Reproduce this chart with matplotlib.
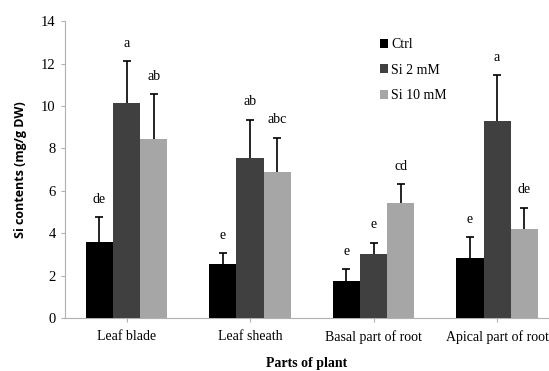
import numpy as np
import matplotlib
matplotlib.use('Agg')
import matplotlib.pyplot as plt

parts = ['Leaf blade', 'Leaf sheath', 'Basal part of root', 'Apical part of root']
series = ['Ctrl', 'Si 2 mM', 'Si 10 mM']
ctrl = [3.6, 2.55, 1.75, 2.85]
si2 = [10.15, 7.55, 3.0, 9.3]
si10 = [8.45, 6.9, 5.4, 4.2]
ctrl_err = [1.15, 0.5, 0.55, 0.95]
si2_err = [1.95, 1.8, 0.55, 2.15]
si10_err = [2.1, 1.6, 0.9, 1.0]
ctrl_lab = ['de', 'e', 'e', 'e']
si2_lab = ['a', 'ab', 'e', 'a']
si10_lab = ['ab', 'abc', 'cd', 'de']

values = [ctrl, si2, si10]
errors = [ctrl_err, si2_err, si10_err]
letters = [ctrl_lab, si2_lab, si10_lab]
colors = ['#000000', '#404040', '#a6a6a6']

serif = 'Liberation Serif'
fig = plt.figure(figsize=(5.49, 3.71), dpi=100)
ax = fig.add_axes([0.118, 0.143, 0.882, 0.800])

x = np.arange(len(parts))
w = 0.22
for i in range(3):
    pos = x + (i - 1) * w
    v = np.array(values[i])
    top = v + np.array(errors[i])
    ax.bar(pos, v, w, color=colors[i], label=series[i], zorder=3)
    # upper error bar only
    ax.vlines(pos, v, top, color='black', lw=1.2, zorder=4)
    ax.plot(pos, top, ls='none', marker='_', ms=6, mew=1.2, color='black', zorder=4)
    for j in range(4):
        ax.text(pos[j], top[j] + 0.55, letters[i][j],
                ha='center', va='bottom', fontsize=10, family=serif)

ax.set_ylim(0, 14)
ax.set_yticks(range(0, 15, 2))
ax.set_xlim(-0.5, 3.42)
ax.set_xticks(x)
ax.set_xticklabels(parts, fontsize=10, family=serif)
for lab in ax.get_yticklabels():
    lab.set_family(serif)
    lab.set_fontsize(10.5)

for s in ['top', 'right']:
    ax.spines[s].set_visible(False)
for s in ['left', 'bottom']:
    ax.spines[s].set_color('#b0b0b0')
ax.tick_params(axis='both', colors='#b0b0b0', length=3, labelcolor='black')
ax.tick_params(axis='x', pad=6)

ax.set_ylabel('Si contents (mg/g DW)', fontsize=9, fontweight='bold',
              family='Open Sans', labelpad=10)
ax.set_xlabel('Parts of plant', fontsize=10, fontweight='bold', family=serif,
              labelpad=9)

leg = ax.legend(loc='upper left', bbox_to_anchor=(0.625, 0.985), frameon=False,
                handlelength=0.6, handleheight=0.6, handletextpad=0.2,
                labelspacing=0.9, prop={'family': serif, 'size': 10})

fig.savefig('out.png', dpi=100)
